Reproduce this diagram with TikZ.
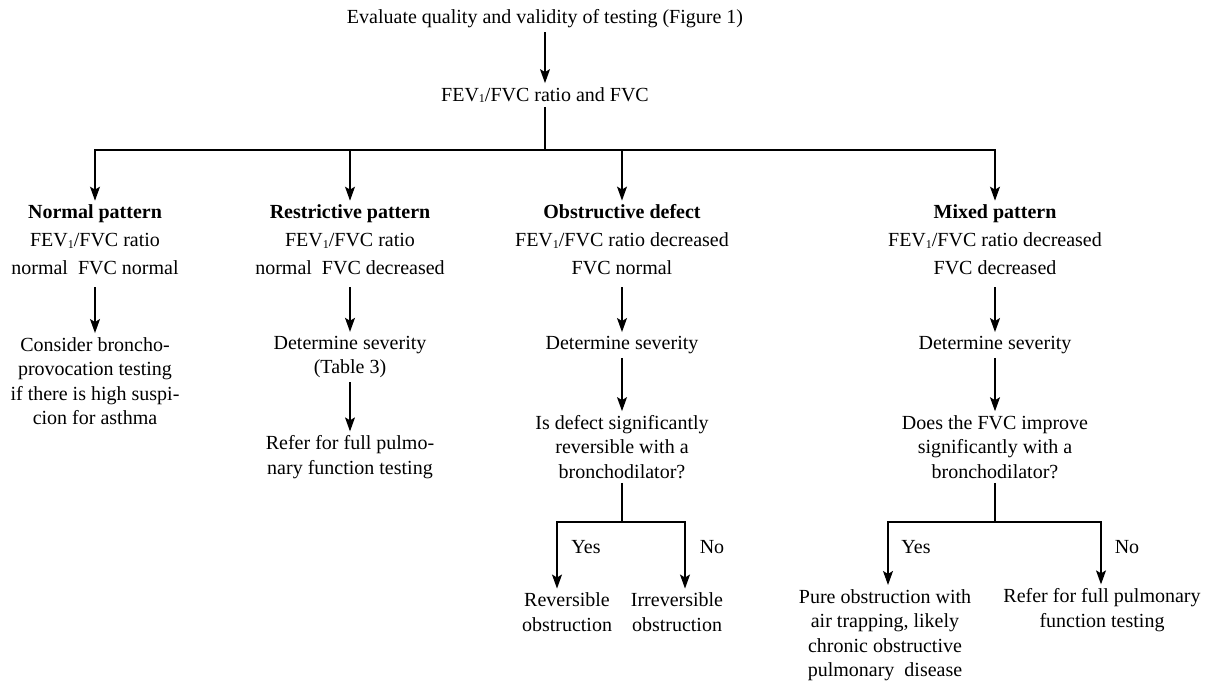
\documentclass[tikz,border=0pt]{standalone}
\usepackage{fontspec}
\setmainfont{Liberation Serif}
\usetikzlibrary{arrows.meta, positioning}

\newcommand{\subone}{\raisebox{-1.5pt}{\fontsize{12}{12}\selectfont 1}}

\begin{document}
\begin{tikzpicture}[
    x=1pt, y=-1pt,
    every node/.style={font=\fontsize{20}{24.5}\selectfont, inner sep=4pt},
    txtnode/.style={align=center},
    headnode/.style={align=center, font=\fontsize{20}{28}\selectfont},
    arrow/.style={-{Stealth[length=14pt, width=10pt, inset=3pt]}, line width=1.2pt},
    link/.style={line width=1.2pt}
]
\useasboundingbox (0,0) rectangle (1208,681);

\node (eval) at (545,19) {Evaluate quality and validity of testing (Figure 1)};
\node (ratio) at (545,95) {FEV\subone/FVC ratio and FVC};
\coordinate (split) at (545,150);

% four patterns
\node[headnode] (normal) at (95,244) {\textbf{Normal pattern}\\FEV\subone/FVC ratio\\normal\ \ FVC normal\strut};
\node[headnode] (restrict) at (350,244) {\textbf{Restrictive pattern}\\FEV\subone/FVC ratio\\normal\ \ FVC decreased\strut};
\node[headnode] (obstruct) at (622,244) {\textbf{Obstructive defect}\\FEV\subone/FVC ratio decreased\\FVC normal\strut};
\node[headnode] (mixed) at (995,244) {\textbf{Mixed pattern}\\FEV\subone/FVC ratio decreased\\FVC decreased\strut};

% normal
\node[txtnode] (provoc) at (95,381) {Consider broncho-\\provocation testing\\if there is high suspi-\\cion for asthma};

% restrictive
\node[txtnode] (sevrestr) at (350,357) {Determine severity\\(Table 3)};
\node[txtnode] (referrestr) at (350,457) {Refer for full pulmo-\\nary function testing};

% obstructive
\node (sevobstr) at (622,345) {Determine severity};
\node[txtnode] (revquest) at (622,447) {Is defect significantly\\reversible with a\\bronchodilator?};
\coordinate (revsplit) at (622,522);
\node[txtnode] (reversible) at (567,612) {Reversible\\obstruction};
\node[txtnode] (irreversible) at (677,612) {Irreversible\\obstruction};
\node (yesobstr) at (586,547) {Yes};
\node (noobstr) at (712,547) {No};

% mixed
\node (sevmixed) at (995,345) {Determine severity};
\node[txtnode] (fvcquest) at (995,447) {Does the FVC improve\\significantly with a\\bronchodilator?};
\coordinate (fvcsplit) at (995,522);
\node[txtnode] (pure) at (885,635) {Pure obstruction with\\air trapping, likely\\chronic obstructive\\pulmonary\ \ disease};
\node[txtnode] (refermixed) at (1102,610) {Refer for full pulmonary\\function testing};
\node (yesmixed) at (916,547) {Yes};
\node (nomixed) at (1127,547) {No};

\draw[arrow] (eval) -- (ratio);
\draw[link] (ratio) -- (split);
\foreach \n in {normal, restrict, obstruct, mixed}
    \draw[arrow] (split) -| (\n);

\draw[arrow] (normal) -- (provoc);
\draw[arrow] (restrict) -- (sevrestr);
\draw[arrow] (sevrestr) -- (referrestr);

\draw[arrow] (obstruct) -- (sevobstr);
\draw[arrow] (sevobstr) -- (revquest);
\draw[link] (revquest) -- (revsplit);
\draw[arrow] (revsplit) -| ([xshift=-10pt]reversible.north);
\draw[arrow] (revsplit) -| ([xshift=8pt]irreversible.north);

\draw[arrow] (mixed) -- (sevmixed);
\draw[arrow] (sevmixed) -- (fvcquest);
\draw[link] (fvcquest) -- (fvcsplit);
\draw[arrow] (fvcsplit) -| ([xshift=3pt]pure.north);
\draw[arrow] (fvcsplit) -| ([xshift=-1pt]refermixed.north);

\end{tikzpicture}
\end{document}
